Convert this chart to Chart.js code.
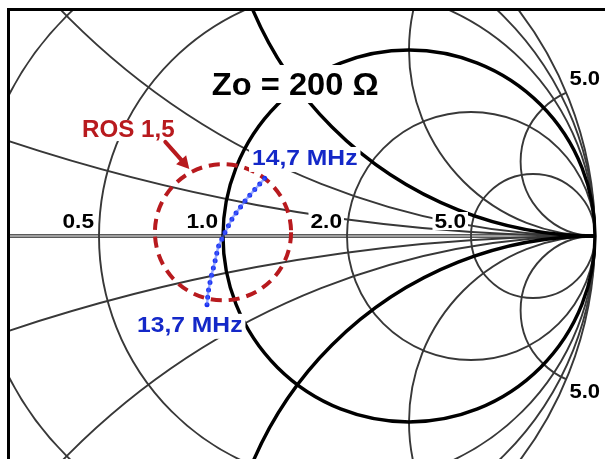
<!DOCTYPE html>
<html>
<head>
<meta charset="utf-8">
<script src="https://cdn.jsdelivr.net/npm/chart.js@4.4.1/dist/chart.umd.min.js"></script>
<style>
  html, body { margin: 0; padding: 0; background: #fff; }
  canvas { display: block; }
</style>
</head>
<body>
<canvas id="smith" width="605" height="459"></canvas>
<script>
// grille de l'abaque (normalisée à Zo)
const resistanceCircles = [0, 0.2, 0.5, 2, 5];
const reactanceArcs = [0.2, 0.5, 2, 5, -0.2, -0.5, -2, -5];
const boldResistance = [1];
const boldReactance = [1, -1];

// étiquettes des cercles
const rTickValues = [0.5, 1, 2, 5];
const rTickLabels = ['0.5', '1.0', '2.0', '5.0'];
const xTickValues = [5, -5];
const xTickLabels = ['5.0', '5.0'];

// balayage 13,7 -> 14,7 MHz, coefficient de réflexion (réel, imaginaire)
const sweepRe = [-0.043, -0.040, -0.032, -0.022, -0.013, 0.003, 0.027, 0.065, 0.113];
const sweepIm = [-0.185, -0.151, -0.110, -0.070, -0.030, 0.005, 0.051, 0.102, 0.156];
const sweepLabels = ['13,7 MHz', '14,7 MHz'];

// cercle ROS 1,5
const rosCenter = [0, 0.01];
const rosRadius = [0.183];
const rosLabel = 'ROS 1,5';
const zoLabel = 'Zo = 200 \u03A9';

const THIN = '#383838';
const RED = '#b81a1e';
const BLUE = '#1428c8';
const FONT = "'Liberation Sans', Arial, sans-serif";

const sweepPoints = sweepRe.map((v, i) => ({ x: v, y: sweepIm[i] }));

// texte sur fond blanc, avec un léger étirement horizontal
const boxedText = (ctx, text, x, y, font, color, align, pad, sx) => {
  const k = sx || 1;
  ctx.save();
  ctx.font = font;
  ctx.textAlign = 'left';
  ctx.textBaseline = 'alphabetic';
  const m = ctx.measureText(text);
  const w = m.width * k;
  const left = align === 'right' ? x - w : x;
  const asc = m.actualBoundingBoxAscent, desc = m.actualBoundingBoxDescent;
  const p = pad || 0;
  ctx.fillStyle = '#fff';
  ctx.fillRect(left - p, y - asc - p, w + 2 * p, asc + desc + 2 * p);
  ctx.translate(left, y);
  ctx.scale(k, 1);
  ctx.fillStyle = color;
  ctx.fillText(text, 0, 0);
  ctx.restore();
};

const smithGrid = {
  id: 'smithGrid',
  beforeDatasetsDraw(chart) {
    const { ctx, scales: { x, y } } = chart;
    const px = v => x.getPixelForValue(v);
    const py = v => y.getPixelForValue(v);
    const unit = px(1) - px(0);
    const circle = (cx, cy, r, w, col) => {
      ctx.beginPath();
      ctx.arc(px(cx), py(cy), Math.abs(r) * unit, 0, Math.PI * 2);
      ctx.lineWidth = w;
      ctx.strokeStyle = col;
      ctx.stroke();
    };

    ctx.save();
    ctx.beginPath();
    ctx.rect(10, 11, chart.width, chart.height);
    ctx.clip();

    // axe réel
    ctx.beginPath();
    ctx.moveTo(px(-1), py(0));
    ctx.lineTo(px(1), py(0));
    ctx.lineWidth = 4;
    ctx.strokeStyle = '#a0a0a0';
    ctx.stroke();
    ctx.lineWidth = 1;
    ctx.strokeStyle = '#5a5a5a';
    [-1.5, 1.5].forEach(d => {
      ctx.beginPath();
      ctx.moveTo(px(-1), py(0) + d);
      ctx.lineTo(px(1), py(0) + d);
      ctx.stroke();
    });

    // cercles de résistance constante
    resistanceCircles.forEach(r => circle(r / (1 + r), 0, 1 / (1 + r), 1.9, THIN));

    // arcs de réactance constante, limités au cercle unité
    ctx.save();
    ctx.beginPath();
    ctx.arc(px(0), py(0), unit, 0, Math.PI * 2);
    ctx.clip();
    reactanceArcs.forEach(v => circle(1, 1 / v, 1 / v, 1.9, THIN));
    boldReactance.forEach(v => circle(1, 1 / v, 1 / v, 3.4, '#000'));
    ctx.restore();

    boldResistance.forEach(r => circle(r / (1 + r), 0, 1 / (1 + r), 3.4, '#000'));

    // cercle ROS 1,5
    ctx.setLineDash([11, 7]);
    circle(rosCenter[0], rosCenter[1], rosRadius[0], 4, RED);
    ctx.setLineDash([]);
    ctx.restore();
  },
  afterDatasetsDraw(chart) {
    const { ctx, scales: { x, y } } = chart;
    const px = v => x.getPixelForValue(v);
    const py = v => y.getPixelForValue(v);
    ctx.save();

    // étiquettes de résistance sur l'axe réel
    rTickValues.forEach((r, i) => {
      const g = (r - 1) / (r + 1);
      boxedText(ctx, rTickLabels[i], px(g) - 5, py(0) - 8, 'bold 21px ' + FONT, '#000', 'right', 2, 1.08);
    });

    // étiquettes de réactance sur le bord
    xTickValues.forEach((v, i) => {
      const d = v * v + 1;
      const gx = (v * v - 1) / d, gy = 2 * v / d;
      const tx = px(gx) + 3;
      const ty = v > 0 ? py(gy) - 8 : py(gy) + 19;
      boxedText(ctx, xTickLabels[i], tx, ty, 'bold 21px ' + FONT, '#000', 'left', 1, 1.05);
    });

    // titre Zo
    boxedText(ctx, zoLabel, px(-0.03), py(0.379), 'bold 32px ' + FONT, '#000', 'left', 8, 1.02);

    // ROS 1,5 + flèche
    boxedText(ctx, rosLabel, px(-0.379), py(0.266), 'bold 23px ' + FONT, RED, 'left', 0, 1.05);
    const a = 118 * Math.PI / 180;
    const tipX = px(rosCenter[0] + (rosRadius[0] + 0.01) * Math.cos(a));
    const tipY = py(rosCenter[1] + (rosRadius[0] + 0.01) * Math.sin(a));
    const tailX = tipX - 24, tailY = tipY - 27;
    const ang = Math.atan2(tipY - tailY, tipX - tailX);
    ctx.strokeStyle = RED;
    ctx.fillStyle = RED;
    ctx.lineWidth = 4;
    ctx.lineCap = 'round';
    ctx.beginPath();
    ctx.moveTo(tailX, tailY);
    ctx.lineTo(tipX - 6 * Math.cos(ang), tipY - 6 * Math.sin(ang));
    ctx.stroke();
    ctx.beginPath();
    ctx.moveTo(tipX, tipY);
    ctx.lineTo(tipX - 14 * Math.cos(ang - 0.5), tipY - 14 * Math.sin(ang - 0.5));
    ctx.lineTo(tipX - 14 * Math.cos(ang + 0.5), tipY - 14 * Math.sin(ang + 0.5));
    ctx.closePath();
    ctx.fill();

    // fréquences aux extrémités du balayage
    const first = sweepPoints[0], last = sweepPoints[sweepPoints.length - 1];
    boxedText(ctx, sweepLabels[1], px(last.x) - 13, py(last.y) - 13, 'bold 22px ' + FONT, BLUE, 'left', 3, 1.12);
    boxedText(ctx, sweepLabels[0], px(first.x) - 70, py(first.y) + 27, 'bold 22px ' + FONT, BLUE, 'left', 3, 1.12);

    // cadre haut et gauche
    ctx.fillStyle = '#000';
    ctx.fillRect(7, 8, chart.width - 7, 3);
    ctx.fillRect(7, 8, 3, chart.height - 8);
    ctx.restore();
  }
};

new Chart(document.getElementById('smith'), {
  type: 'scatter',
  data: {
    datasets: [
      {
        data: sweepPoints,
        showLine: true,
        borderColor: 'rgba(80, 110, 255, 0.55)',
        borderWidth: 2.5,
        pointRadius: 0,
        tension: 0
      },
      {
        data: sweepPoints,
        showLine: true,
        borderColor: '#1a30f0',
        borderWidth: 5,
        borderDash: [0, 7.5],
        borderCapStyle: 'round',
        pointRadius: 0,
        tension: 0
      }
    ]
  },
  options: {
    responsive: false,
    devicePixelRatio: 1,
    animation: false,
    layout: { padding: 0 },
    plugins: { legend: { display: false }, tooltip: { enabled: false } },
    scales: {
      x: { type: 'linear', display: false, min: -223 / 372, max: 382 / 372 },
      y: { type: 'linear', display: false, min: -223 / 372, max: 236 / 372 }
    }
  },
  plugins: [smithGrid]
});
</script>
</body>
</html>
